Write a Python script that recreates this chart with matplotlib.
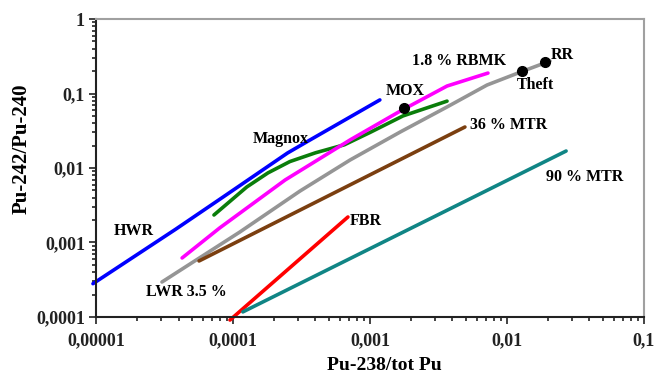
import matplotlib
matplotlib.use("Agg")
import matplotlib.pyplot as plt
from matplotlib.ticker import LogLocator, NullFormatter

plt.rcParams['font.family'] = ['Liberation Serif', 'DejaVu Serif']
plt.rcParams['font.weight'] = 'bold'

# tick values and labels (decimal comma)
xticks = [1e-5, 1e-4, 1e-3, 1e-2, 1e-1]
xticklabels = ['0,00001', '0,0001', '0,001', '0,01', '0,1']
yticks = [1e-4, 1e-3, 1e-2, 1e-1, 1]
yticklabels = ['0,0001', '0,001', '0,01', '0,1', '1']

# HWR (blue)
hwr_x = [9.5e-6, 3.8e-5, 8.5e-5, 2.5e-4, 3.65e-4, 1.18e-3]
hwr_y = [2.8e-4, 1.5e-3, 4.1e-3, 0.0159, 0.0238, 0.082]
# Magnox (green)
magnox_x = [7.26e-5, 1.26e-4, 1.8e-4, 2.6e-4, 4.0e-4, 6.5e-4, 1.0e-3, 1.74e-3, 3.65e-3]
magnox_y = [2.34e-3, 5.56e-3, 8.6e-3, 0.0122, 0.0160, 0.0205, 0.030, 0.050, 0.079]
# 1.8 % RBMK (magenta)
rbmk_x = [4.25e-5, 8.0e-5, 2.4e-4, 7.15e-4, 1.66e-3, 3.65e-3, 7.26e-3]
rbmk_y = [6.2e-4, 1.57e-3, 6.9e-3, 0.0238, 0.058, 0.126, 0.188]
# LWR 3.5 % (grey)
lwr_x = [3.03e-5, 1.12e-4, 3.08e-4, 7.15e-4, 1.66e-3, 3.65e-3, 7.15e-3, 0.0131, 0.0206]
lwr_y = [2.95e-4, 1.38e-3, 4.9e-3, 0.0128, 0.0304, 0.066, 0.13, 0.2, 0.273]
# 36 % MTR (brown)
mtr36_x = [5.65e-5, 4.93e-3]
mtr36_y = [5.65e-4, 0.0355]
# FBR (red)
fbr_x = [9.5e-5, 6.9e-4]
fbr_y = [9.1e-5, 2.2e-3]
# 90 % MTR (teal)
mtr90_x = [1.18e-4, 0.027]
mtr90_y = [1.17e-4, 0.0169]

# marked points
dot_names = ['MOX', 'Theft', 'RR']
dot_x = [1.77e-3, 0.01285, 0.0189]
dot_y = [0.0639, 0.2, 0.265]

fig = plt.figure(figsize=(6.55, 3.75), dpi=100)
ax = fig.add_axes([0.1466, 0.1547, 0.8366, 0.7946])

lw = 2.6
ax.plot(hwr_x, hwr_y, color='#0000ff', lw=lw, clip_on=False, solid_capstyle='round')
ax.plot(magnox_x, magnox_y, color='#0a7d0a', lw=lw, solid_capstyle='round')
ax.plot(rbmk_x, rbmk_y, color='#ff00ff', lw=lw, solid_capstyle='round')
ax.plot(lwr_x, lwr_y, color='#959595', lw=lw, solid_capstyle='round')
ax.plot(mtr36_x, mtr36_y, color='#7b3f10', lw=lw, solid_capstyle='round')
ax.plot(fbr_x, fbr_y, color='#ff0000', lw=lw, clip_on=False, solid_capstyle='round')
ax.plot(mtr90_x, mtr90_y, color='#108585', lw=lw, solid_capstyle='round')
ax.plot(dot_x, dot_y, 'o', color='black', ms=7, zorder=5)

ax.set_xscale('log')
ax.set_yscale('log')
ax.set_xlim(1e-5, 0.1)
ax.set_ylim(1e-4, 1)

ax.set_xticks(xticks)
ax.set_xticklabels(xticklabels)
ax.set_yticks(yticks)
ax.set_yticklabels(yticklabels)
ax.xaxis.set_minor_locator(LogLocator(base=10, subs=range(2, 10)))
ax.yaxis.set_minor_locator(LogLocator(base=10, subs=range(2, 10)))
ax.xaxis.set_minor_formatter(NullFormatter())
ax.yaxis.set_minor_formatter(NullFormatter())
ax.tick_params(which='both', direction='out', colors='#222222', width=1.2,
               labelsize=13)
ax.tick_params(which='major', length=5)
ax.tick_params(which='minor', length=3)
ax.tick_params(axis='x', pad=6)
ax.tick_params(axis='y', pad=3)

for s in ['left', 'bottom']:
    ax.spines[s].set_color('#222222')
    ax.spines[s].set_linewidth(1.5)
for s in ['top', 'right']:
    ax.spines[s].set_color('#a0a0a0')
    ax.spines[s].set_linewidth(1.5)

ax.set_xlabel('Pu-238/tot Pu', fontsize=14, fontweight='bold')
ax.set_ylabel('Pu-242/Pu-240', fontsize=15, fontweight='bold')
ax.xaxis.set_label_coords(0.527, -0.135)
ax.yaxis.set_label_coords(-0.117, 0.564)

tk = dict(fontsize=11.5, fontweight='bold', va='center')
ax.text(1.89e-5, 1.43e-3, 'HWR', ha='center', **tk)
ax.text(2.24e-4, 0.0245, 'Magnox', ha='center', **tk)
ax.text(4.6e-5, 2.17e-4, 'LWR 3.5 %', ha='center', **tk)
ax.text(7.15e-4, 1.94e-3, 'FBR', ha='left', **tk)
ax.text(0.037, 7.57e-3, '90 % MTR', ha='center', **tk)
ax.text(5.37e-3, 0.0378, '36 % MTR', ha='left', **tk)
ax.text(1.8e-3, 0.108, 'MOX', ha='center', **tk)
ax.text(4.47e-3, 0.273, '1.8 % RBMK', ha='center', **tk)
ax.text(0.016, 0.13, 'Theft', ha='center', **tk)
ax.text(0.0252, 0.329, 'RR', ha='center', **tk)

fig.savefig('out.png', dpi=100)
